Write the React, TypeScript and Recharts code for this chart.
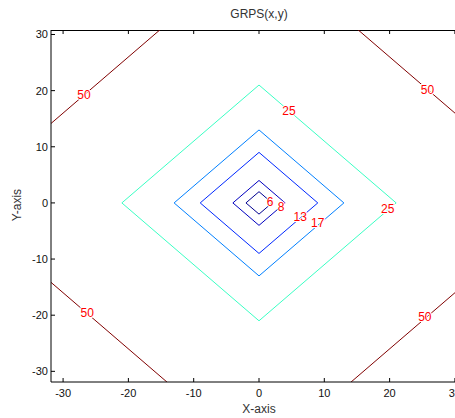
import React from 'react';
import { LineChart, Line, XAxis, YAxis, Scatter } from 'recharts';

// contour levels of GRPS(x,y), each a closed diamond (vertices)
const contour6 = [
	{ x: -2, y: 0 }, { x: 0, y: 2 }, { x: 2, y: 0 }, { x: 0, y: -2 }, { x: -2, y: 0 },
];
const contour8 = [
	{ x: -4, y: 0 }, { x: 0, y: 4 }, { x: 4, y: 0 }, { x: 0, y: -4 }, { x: -4, y: 0 },
];
const contour13 = [
	{ x: -9, y: 0 }, { x: 0, y: 9 }, { x: 9, y: 0 }, { x: 0, y: -9 }, { x: -9, y: 0 },
];
const contour17 = [
	{ x: -13, y: 0 }, { x: 0, y: 13 }, { x: 13, y: 0 }, { x: 0, y: -13 }, { x: -13, y: 0 },
];
const contour25 = [
	{ x: -21, y: 0 }, { x: 0, y: 21 }, { x: 21, y: 0 }, { x: 0, y: -21 }, { x: -21, y: 0 },
];
// the 50 level only shows in the four corners, the rest is clipped
const contour50 = [
	{ x: -46, y: 0 }, { x: 0, y: 46 }, { x: 46, y: 0 }, { x: 0, y: -46 }, { x: -46, y: 0 },
];

const contourLabels = [
	{ x: -26.8, y: 19.2, text: '50' },
	{ x: 25.8, y: 20.1, text: '50' },
	{ x: -26.3, y: -19.6, text: '50' },
	{ x: 25.4, y: -20.3, text: '50' },
	{ x: 4.6, y: 16.4, text: '25' },
	{ x: 19.7, y: -1.1, text: '25' },
	{ x: 9.0, y: -3.6, text: '17' },
	{ x: 6.3, y: -2.5, text: '13' },
	{ x: 3.4, y: -0.7, text: '8' },
	{ x: 1.7, y: 0.1, text: '6' },
];

const xTicks = [-30, -20, -10, 0, 10, 20, 30];
const yTicks = [-30, -20, -10, 0, 10, 20, 30];

const TOP = 30;
const BOTTOM = 382;
const LEFT = 51;
const RIGHT = 467;
const font = '"Liberation Sans", Arial, sans-serif';

const BottomTick = (props: any) => {
	const { x, payload } = props;
	return (
		<g>
			<line x1={x} y1={BOTTOM} x2={x} y2={BOTTOM - 4} stroke="#000" />
			<line x1={x} y1={TOP} x2={x} y2={TOP + 4} stroke="#000" />
			<text x={x} y={BOTTOM + 11} textAnchor="middle" dominantBaseline="central" fontSize={11} fill="#111" fontFamily={font}>
				{payload.value}
			</text>
		</g>
	);
};

const LeftTick = (props: any) => {
	const { y, payload } = props;
	return (
		<g>
			<line x1={LEFT} y1={y} x2={LEFT + 4} y2={y} stroke="#000" />
			<text x={LEFT - 3} y={y} textAnchor="end" dominantBaseline="central" fontSize={11} fill="#111" fontFamily={font}>
				{payload.value}
			</text>
		</g>
	);
};

const LabelShape = (props: any) => {
	const { cx, cy, payload } = props;
	return (
		<text
			x={cx}
			y={cy}
			textAnchor="middle"
			dominantBaseline="central"
			fontSize={12}
			fill="#ff0000"
			stroke="#fff"
			strokeWidth={2}
			paintOrder="stroke"
			fontFamily={font}
		>
			{payload.text}
		</text>
	);
};

const lineProps = {
	dataKey: 'y',
	dot: false,
	activeDot: false,
	strokeWidth: 1,
	isAnimationActive: false,
	type: 'linear' as const,
};

export default function App() {
	return (
		<div style={{ position: 'absolute', left: 0, top: 0, width: 455, height: 418, overflow: 'hidden', background: '#fff' }}>
			<LineChart width={470} height={418} margin={{ top: TOP, right: 470 - RIGHT, bottom: 6, left: 11 }}>
				<XAxis
					dataKey="x"
					type="number"
					domain={[-31.85, 31.85]}
					ticks={xTicks}
					allowDataOverflow
					height={30}
					tickLine={false}
					tick={<BottomTick />}
					axisLine={{ stroke: '#000' }}
				/>
				<YAxis
					dataKey="y"
					type="number"
					domain={[-31.9, 30.8]}
					ticks={yTicks}
					allowDataOverflow
					width={40}
					tickLine={false}
					tick={<LeftTick />}
					axisLine={{ stroke: '#000' }}
				/>
				<Line data={contour50} stroke="#800000" {...lineProps} />
				<Line data={contour25} stroke="#3affc4" {...lineProps} />
				<Line data={contour17} stroke="#0080ff" {...lineProps} />
				<Line data={contour13} stroke="#0028ff" {...lineProps} />
				<Line data={contour8} stroke="#0000c0" {...lineProps} />
				<Line data={contour6} stroke="#000090" {...lineProps} />
				<Scatter data={contourLabels} dataKey="y" shape={<LabelShape />} isAnimationActive={false} />
				<text x={259} y={14} textAnchor="middle" dominantBaseline="central" fontSize={12} fill="#333" fontFamily={font}>
					GRPS(x,y)
				</text>
				<text x={259} y={409} textAnchor="middle" dominantBaseline="central" fontSize={12} fill="#333" fontFamily={font}>
					X-axis
				</text>
				<text
					x={17}
					y={205}
					textAnchor="middle"
					dominantBaseline="central"
					fontSize={12}
					fill="#333"
					fontFamily={font}
					transform="rotate(-90 17 205)"
				>
					Y-axis
				</text>
				<line x1={LEFT} y1={TOP + 0.5} x2={RIGHT} y2={TOP + 0.5} stroke="#000" />
				<line x1={RIGHT} y1={TOP} x2={RIGHT} y2={BOTTOM} stroke="#000" />
			</LineChart>
		</div>
	);
}
